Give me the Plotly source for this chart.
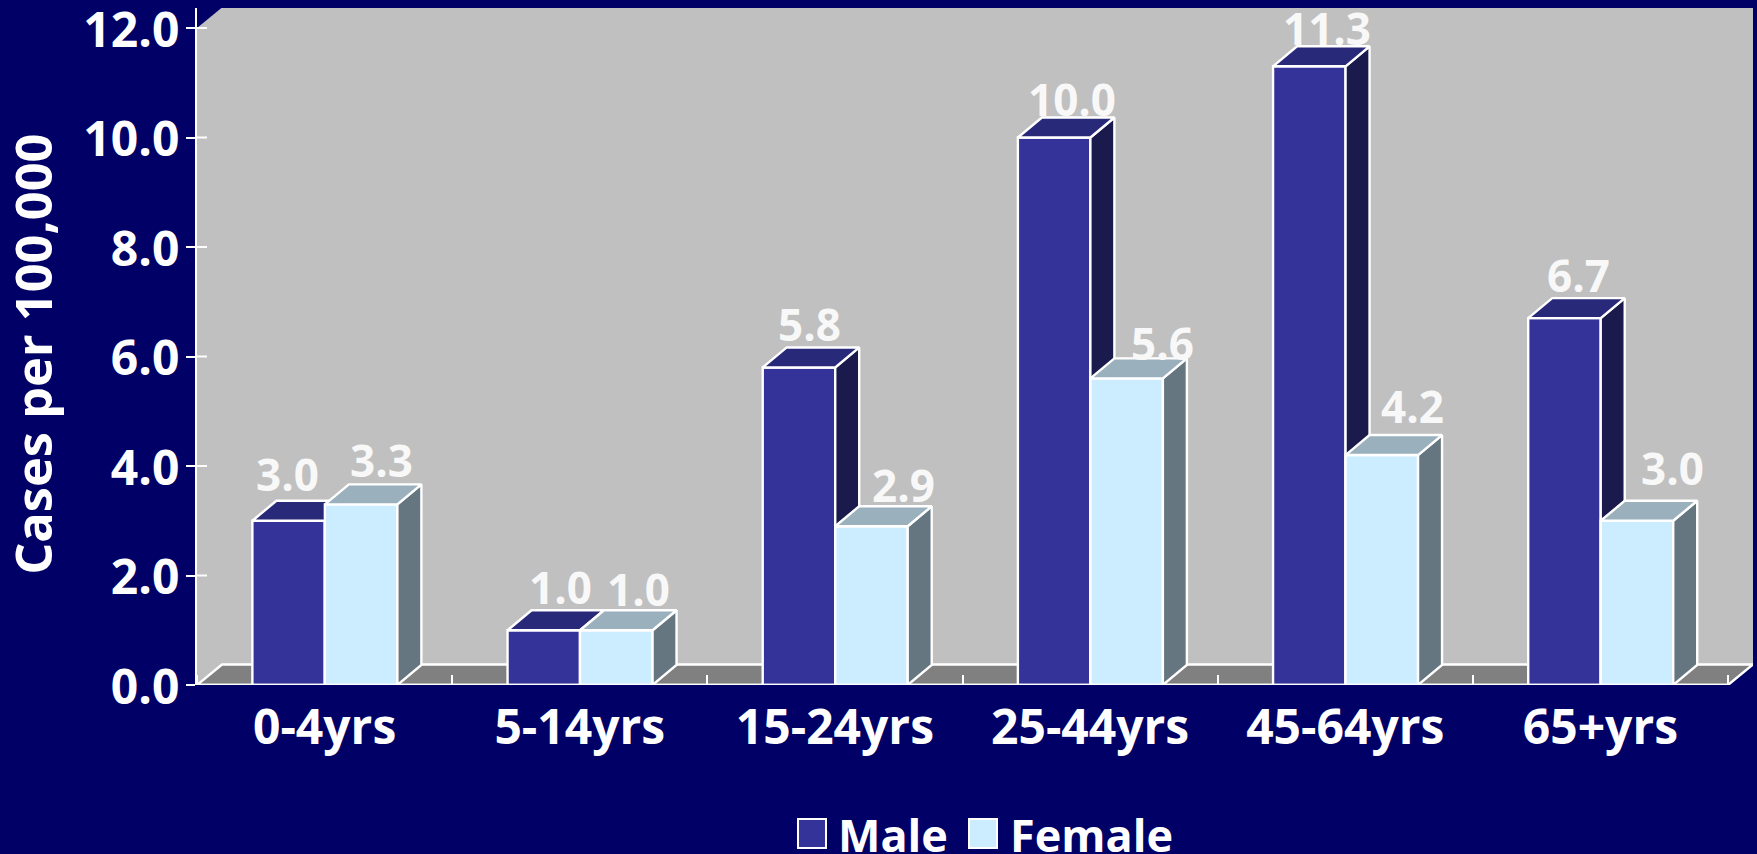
import plotly.graph_objects as go

# ---- data ----
categories = ["0-4yrs", "5-14yrs", "15-24yrs", "25-44yrs", "45-64yrs", "65+yrs"]
male = [3.0, 1.0, 5.8, 10.0, 11.3, 6.7]
female = [3.3, 1.0, 2.9, 5.6, 4.2, 3.0]
y_ticks = [0, 2, 4, 6, 8, 10, 12]
y_tick_labels = ["0.0", "2.0", "4.0", "6.0", "8.0", "10.0", "12.0"]

# ---- styling ----
FONT = "Open Sans"
BG = "#000066"
WALL = "#C0C0C0"
FLOOR = "#808080"
MALE = ("#333399", "#29297A", "#1A1A4D")      # front, top, side
FEMALE = ("#CCECFF", "#9BB0BD", "#667680")
LW = 2.4

PX_L, PX_R, PX_T, PX_B = 197, 1753, 8, 685
UX = 255.17    # px per category
UY = 54.75     # px per 1.0 on the value axis
BAR_W = 72.5 / UX
BAR_SHIFT = 0.3 / UX
D_X, D_Y = 24 / UX, 20 / UY      # bar depth
W_X, W_Y = 25 / UX, 20.5 / UY    # wall depth
XR = [-0.5, 5.5 + W_X]
YR = [0, 12 + 20 / UY]

# per-label offset from the back top edge (px)
male_shift = [(-1, 5), (17, 1), (11, 1), (18, -3), (18, -4), (14, 1)]
female_shift = [(20, 2), (22, -1), (32, -1), (36, -7), (31, 7), (36, 11)]

fig = go.Figure()


def box_faces(values, x_left, colors, xa, ya):
    for i, v in enumerate(values):
        xl = i + x_left
        xr = xl + BAR_W
        fig.add_trace(go.Scatter(
            x=[xr, xr + D_X, xr + D_X, xr, xr], y=[0, D_Y, v + D_Y, v, 0],
            fill="toself", fillcolor=colors[2], mode="lines",
            line=dict(color="white", width=LW), xaxis=xa, yaxis=ya,
            hoverinfo="skip", showlegend=False))
        fig.add_trace(go.Scatter(
            x=[xl, xl + D_X, xr + D_X, xr, xl], y=[v, v + D_Y, v + D_Y, v, v],
            fill="toself", fillcolor=colors[1], mode="lines",
            line=dict(color="white", width=LW), xaxis=xa, yaxis=ya,
            hoverinfo="skip", showlegend=False))


xs = list(range(len(categories)))
fig.add_trace(go.Bar(x=xs, y=male, name="Male", width=BAR_W, offset=BAR_SHIFT - BAR_W,
                     marker=dict(color=MALE[0], line=dict(color="white", width=LW)),
                     xaxis="x", yaxis="y", showlegend=False))
box_faces(male, BAR_SHIFT - BAR_W, MALE, "x", "y")
fig.add_trace(go.Bar(x=xs, y=female, name="Female", width=BAR_W, offset=BAR_SHIFT,
                     marker=dict(color=FEMALE[0], line=dict(color="white", width=LW)),
                     xaxis="x2", yaxis="y2", showlegend=False))
box_faces(female, BAR_SHIFT, FEMALE, "x2", "y2")

# axis baseline
fig.add_trace(go.Scatter(x=[-0.5, 5.5], y=[0, 0], mode="lines", xaxis="x2", yaxis="y2",
                         line=dict(color="white", width=LW), cliponaxis=False,
                         hoverinfo="skip", showlegend=False))
# inner half of the value ticks
tx, ty = [], []
for t in y_ticks:
    tx += [-0.5, -0.5 + 10 / UX, None]
    ty += [t, t, None]
fig.add_trace(go.Scatter(x=tx, y=ty, mode="lines", xaxis="x2", yaxis="y2",
                         line=dict(color="white", width=2), cliponaxis=False,
                         hoverinfo="skip", showlegend=False))

shapes = [
    # back wall with its bevelled corner
    dict(type="path", xref="x", yref="y", layer="below", fillcolor=WALL, line_width=0,
         path=f"M -0.5 0 L -0.5 12 L {-0.5 + W_X} {12 + W_Y} L {XR[1]} {12 + W_Y} L {XR[1]} {W_Y} L {5.5} 0 Z"),
    # floor
    dict(type="path", xref="x", yref="y", layer="below", fillcolor=FLOOR,
         line=dict(color="white", width=LW),
         path=f"M -0.5 0 L {-0.5 + W_X} {W_Y} L {XR[1]} {W_Y} L 5.5 0 Z"),
    # legend swatches
    dict(type="rect", xref="paper", yref="paper", x0=(798 - PX_L) / (PX_R - PX_L), x1=(826 - PX_L) / (PX_R - PX_L),
         y0=(PX_B - 848) / (PX_B - PX_T), y1=(PX_B - 819) / (PX_B - PX_T),
         fillcolor=MALE[0], line=dict(color="white", width=2)),
    dict(type="rect", xref="paper", yref="paper", x0=(969 - PX_L) / (PX_R - PX_L), x1=(997 - PX_L) / (PX_R - PX_L),
         y0=(PX_B - 848) / (PX_B - PX_T), y1=(PX_B - 819) / (PX_B - PX_T),
         fillcolor=FEMALE[0], line=dict(color="white", width=2)),
]

annotations = []
for vals, left, shifts in ((male, BAR_SHIFT - BAR_W, male_shift), (female, BAR_SHIFT, female_shift)):
    for i, v in enumerate(vals):
        annotations.append(dict(
            x=i + left + BAR_W / 2, y=v + D_Y, xref="x", yref="y", text=f"{v:.1f}",
            showarrow=False, xanchor="center", yanchor="bottom",
            xshift=shifts[i][0], yshift=shifts[i][1] - 10,
            font=dict(family=FONT, size=44, color="#F8F8F8", weight="bold")))
annotations.append(dict(
    xref="paper", x=0, xanchor="center", xshift=-164, yref="y", y=6.03, yanchor="middle",
    text="Cases per 100,000", textangle=-90, showarrow=False,
    font=dict(family=FONT, size=50.5, color="white", weight="bold")))
for label, px in (("Male", 836), ("Female", 1008)):
    annotations.append(dict(
        xref="paper", x=(px - PX_L) / (PX_R - PX_L), xanchor="left",
        yref="paper", y=(PX_B - 834) / (PX_B - PX_T), yanchor="middle",
        text=label, showarrow=False,
        font=dict(family=FONT, size=45, color="white", weight="bold")))

axis_font = dict(family=FONT, size=48, color="white", weight="bold")
fig.update_layout(
    width=1757, height=854, paper_bgcolor=BG, plot_bgcolor="rgba(0,0,0,0)",
    margin=dict(l=PX_L, r=1757 - PX_R, t=PX_T, b=854 - PX_B, autoexpand=False),
    showlegend=False, barmode="overlay", shapes=shapes, annotations=annotations,
    xaxis=dict(range=XR, tickvals=xs, ticktext=categories, ticks="", showgrid=False,
               zeroline=False, showline=False, tickfont=axis_font,
               ticklabelstandoff=10,
               minor=dict(tickmode="array", tickvals=[i - 0.5 for i in range(7)], ticks="inside",
                          ticklen=10, tickcolor="white", tickwidth=2, showgrid=False)),
    yaxis=dict(range=YR, tickvals=y_ticks, ticktext=y_tick_labels, ticks="outside", ticklen=9,
               tickcolor="white", tickwidth=2, showgrid=False, zeroline=False, showline=True,
               linecolor="white", linewidth=2, tickfont=axis_font, ticklabelstandoff=-3,
               ticklabelshift=2, ticklabeloverflow="allow"),
    xaxis2=dict(range=XR, overlaying="x", visible=False),
    yaxis2=dict(range=YR, overlaying="y", visible=False),
)

fig.write_html("out.html", config=dict(displayModeBar=False),
               post_script="document.body.style.margin='0';document.documentElement.style.overflow='hidden';")
